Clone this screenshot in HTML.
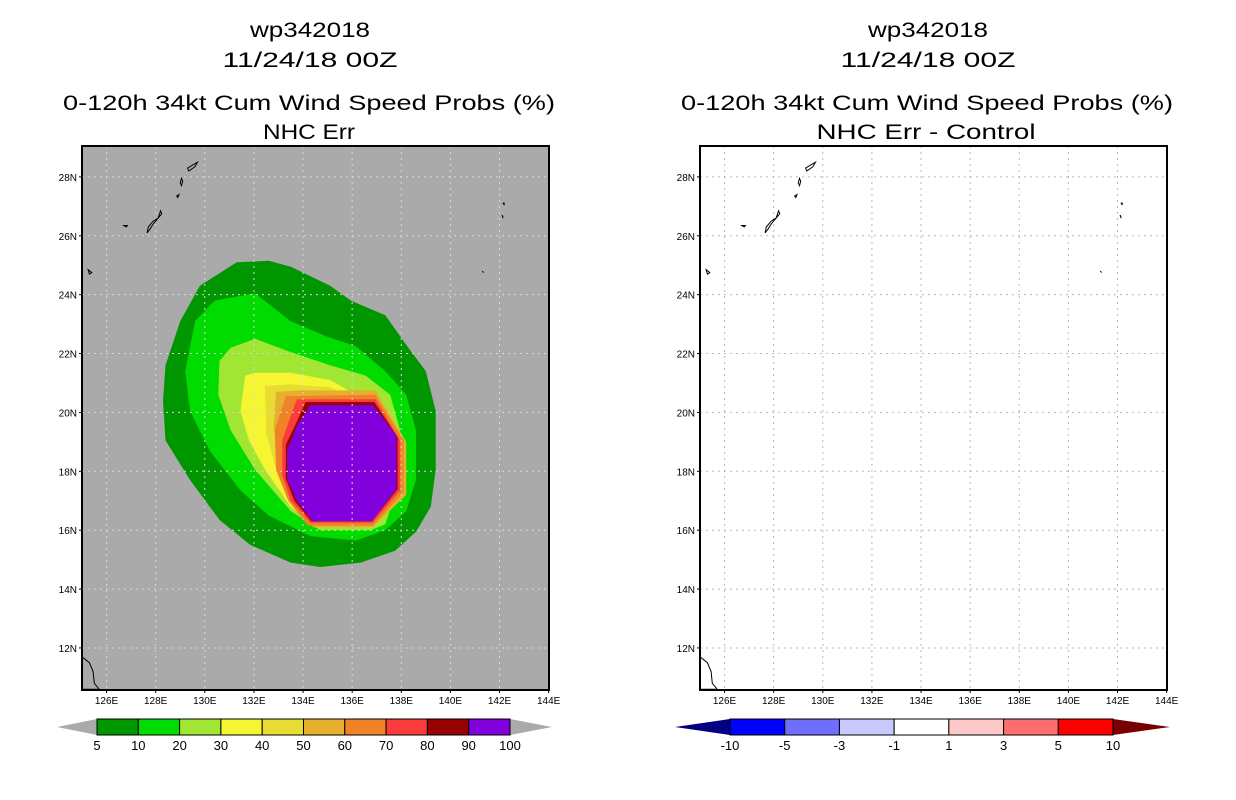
<!DOCTYPE html>
<html><head><meta charset="utf-8">
<style>
body{margin:0;background:#fff;width:1236px;height:800px;overflow:hidden;font-family:"Liberation Sans",sans-serif}
svg{position:absolute;left:0;top:0}
</style></head>
<body>
<svg id="chart" width="1236" height="800" font-family="Liberation Sans, sans-serif">
<g font-size="21" text-anchor="middle" fill="#000" lengthAdjust="spacingAndGlyphs">
<text x="310" y="37" textLength="120" lengthAdjust="spacingAndGlyphs">wp342018</text>
<text x="310" y="67" textLength="175" lengthAdjust="spacingAndGlyphs">11/24/18 00Z</text>
<text x="309" y="110" textLength="492" lengthAdjust="spacingAndGlyphs">0-120h 34kt Cum Wind Speed Probs (%)</text>
<text x="309" y="139" textLength="92" lengthAdjust="spacingAndGlyphs">NHC Err</text>
</g>
<g font-size="21" text-anchor="middle" fill="#000">
<text x="928" y="37" textLength="120" lengthAdjust="spacingAndGlyphs">wp342018</text>
<text x="928" y="67" textLength="175" lengthAdjust="spacingAndGlyphs">11/24/18 00Z</text>
<text x="927" y="110" textLength="492" lengthAdjust="spacingAndGlyphs">0-120h 34kt Cum Wind Speed Probs (%)</text>
<text x="926" y="139" textLength="219" lengthAdjust="spacingAndGlyphs">NHC Err - Control</text>
</g>
<g id="left"></g>
<g id="right"></g>
<g id="cbl"></g>
<g id="cbr"></g>
</svg>
<script>
const lonTicks=[126,128,130,132,134,136,138,140,142,144];
const latTicks=[12,14,16,18,20,22,24,26,28];
const levels=[5,10,20,30,40,50,60,70,80,90,100];
const levelColors=['#009600','#00dc00','#a0e632','#f5f532','#e6dc32','#e6af2d','#f08228','#fa3c3c','#960000','#8200dc'];
// contour polygons [lon,lat]
const c5=[[131.3,25.1],[132.6,25.15],[133.5,24.95],[135.1,24.3],[135.95,23.8],[137.35,23.3],[138.2,22.3],[139.0,21.4],[139.4,20.05],[139.4,18.05],[139.2,16.8],[138.6,15.95],[137.75,15.3],[136.35,14.9],[134.7,14.75],[133.5,14.9],[131.85,15.5],[130.6,16.35],[129.4,17.7],[128.4,19.05],[128.3,20.4],[128.4,21.6],[129.0,23.1],[129.8,24.3]];
const c10=[[130.4,23.8],[132.05,24.05],[133.5,23.1],[134.9,22.6],[136.15,22.25],[137.35,21.4],[138.2,20.6],[138.6,19.4],[138.6,17.7],[138.2,16.65],[137.35,16.0],[136.15,15.65],[134.3,15.8],[132.6,16.5],[131.45,17.35],[130.2,18.7],[129.4,20.05],[129.2,21.4],[129.6,23.1]];
const c20=[[131.05,22.2],[132.05,22.5],[133.5,22.05],[135.1,21.6],[136.55,21.25],[137.55,20.6],[137.95,19.4],[137.95,17.7],[137.35,16.2],[136.75,16.0],[134.7,16.0],[133.5,16.65],[132.05,18.05],[131.05,19.4],[130.55,20.6],[130.6,21.75]];
const c30=[[131.65,21.25],[132.05,21.35],[133.5,21.35],[135.1,21.1],[136.15,20.6],[137.35,19.7],[137.95,19.05],[137.95,17.5],[136.75,16.15],[134.5,16.1],[133.5,16.8],[132.45,18.05],[131.8,19.05],[131.45,20.05]];
const c40=[[132.45,20.9],[133.5,20.95],[135.1,20.85],[136.3,20.4],[137.4,19.6],[138.0,19.0],[138.0,17.45],[136.8,16.1],[134.45,16.1],[133.6,17.0],[132.9,18.1],[132.5,19.3]];
const c50=[[132.9,20.7],[133.9,20.75],[136.95,20.75],[138.2,19.0],[138.2,17.2],[136.85,16.1],[134.4,16.1],[133.7,17.0],[133.1,18.1],[132.8,19.5]];
const c60=[[133.3,20.55],[136.95,20.6],[138.1,19.05],[138.1,17.3],[136.85,16.15],[134.2,16.15],[133.4,17.0],[132.9,18.05],[132.85,19.4]];
const c70=[[133.75,20.45],[136.95,20.45],[137.95,19.05],[137.95,17.35],[136.85,16.25],[134.3,16.25],[133.5,17.0],[133.15,17.85],[133.15,19.05],[133.5,19.9]];
const c80=[[134.1,20.35],[136.9,20.35],[137.85,19.15],[137.85,17.4],[136.8,16.3],[134.35,16.3],[133.65,17.0],[133.3,17.75],[133.3,18.9],[133.7,19.6]];
const c90=[[134.3,20.25],[136.85,20.25],[137.8,19.2],[137.8,17.4],[136.8,16.3],[134.4,16.3],[133.75,17.0],[133.35,17.75],[133.35,18.7],[133.75,19.55]];
const c100=[[134.5,20.1],[136.75,20.1],[137.65,19.1],[137.65,17.55],[136.65,16.45],[134.55,16.45],[133.9,17.05],[133.5,17.7],[133.4,18.55],[133.75,19.4]];
const contours=[c5,c10,c20,c30,c40,c50,c60,c70,c80,c90,c100];
// islands [lon,lat]
const islands=[
[[129.3,28.3],[129.7,28.5],[129.6,28.35],[129.35,28.2]],
[[129.05,27.95],[129.0,27.8],[129.05,27.7],[129.1,27.85]],
[[128.85,27.35],[128.95,27.4],[128.9,27.3]],
[[128.2,26.85],[128.1,26.6],[127.9,26.5],[127.7,26.3],[127.65,26.1],[127.75,26.2],[127.9,26.4],[128.05,26.55],[128.25,26.75]],
[[126.7,26.35],[126.85,26.35],[126.8,26.3]],
[[125.25,24.85],[125.4,24.75],[125.3,24.7]],
[[142.15,27.1],[142.2,27.05],[142.18,27.12]],
[[142.1,26.7],[142.15,26.6],[142.12,26.68]],
[[141.3,24.8],[141.35,24.75]],
[[125.0,11.7],[125.3,11.5],[125.45,11.2],[125.5,10.8],[125.7,10.6],[125.0,10.6]]
];
const cbLeftLabels=['5','10','20','30','40','50','60','70','80','90','100'];
const cbRightLabels=['-10','-5','-3','-1','1','3','5','10'];
const cbRightColors=['#0000ff','#6e6eff','#c8c8ff','#ffffff','#ffc8c8','#ff6e6e','#ff0000'];

const NS='http://www.w3.org/2000/svg';
function mk(p,t,a){const e=document.createElementNS(NS,t);for(const k in a)e.setAttribute(k,a[k]);p.appendChild(e);return e;}
const TOPY=146,BOTY=690;
function xs(x0){return lon=>x0+(lon-125)*24.56;}
function ys(lat){return TOPY+(29.05-lat)*29.44;}
function poly(pts,sx){return pts.map(p=>sx(p[0]).toFixed(1)+','+ys(p[1]).toFixed(1)).join(' ');}

function drawMap(g,x0,bg,filled){
  const sx=xs(x0),x1=x0+467;
  const r=mk(g,'rect',{x:x0,y:TOPY,width:467,height:BOTY-TOPY,fill:bg});
  
  
  if(filled){contours.forEach((c,i)=>{const p=mk(g,'polygon',{points:poly(c,sx),fill:levelColors[Math.min(i,9)]});
    
    });}
  const gc=filled?'#d8d8d8':'#b8b8b8';
  lonTicks.forEach(l=>{if(l<144){const ln=mk(g,'line',{x1:sx(l),x2:sx(l),y1:TOPY,y2:BOTY,stroke:gc,'stroke-dasharray':'2,4','stroke-width':1});
    
    }
    const t=mk(g,'text',{x:sx(l),y:BOTY+14,'font-size':10,'text-anchor':'middle'});t.textContent=l+'E';
    
    
    mk(g,'line',{x1:sx(l),x2:sx(l),y1:BOTY,y2:BOTY+3,stroke:'#000'});});
  latTicks.forEach(l=>{const ln=mk(g,'line',{x1:x0,x2:x1,y1:ys(l),y2:ys(l),stroke:gc,'stroke-dasharray':'2,4'});
    
    
    const t=mk(g,'text',{x:x0-5,y:ys(l)+4,'font-size':10,'text-anchor':'end'});t.textContent=l+'N';
    
    
    mk(g,'line',{x1:x0-3,x2:x0,y1:ys(l),y2:ys(l),stroke:'#000'});});
  islands.forEach(s=>{const p=mk(g,'polygon',{points:poly(s,sx),fill:'none',stroke:'#000','stroke-width':1});
    
    });
  const f=mk(g,'rect',{x:x0,y:TOPY,width:467,height:BOTY-TOPY,fill:'none',stroke:'#000','stroke-width':2});
  
  
}
drawMap(document.getElementById('left'),82,'#aaaaaa',true);
drawMap(document.getElementById('right'),700,'#ffffff',false);

function drawBar(g,xa,xb,xe,xf,colors,labels,lc,rc){
  const y0=719,y1=735,ym=727,n=colors.length,w=(xe-xb)/n;
  let t=mk(g,'polygon',{points:`${xa},${ym} ${xb},${y0} ${xb},${y1}`,fill:lc});
  
  
  t=mk(g,'polygon',{points:`${xf},${ym} ${xe},${y0} ${xe},${y1}`,fill:rc});
  
  
  colors.forEach((c,i)=>{const r=mk(g,'rect',{x:xb+i*w,y:y0,width:w,height:y1-y0,fill:c,stroke:'#000','stroke-width':1});
    
    });
  labels.forEach((l,i)=>{const x=xb+i*w;
    const tx=mk(g,'text',{x:x,y:750,'font-size':13,'text-anchor':'middle'});tx.textContent=l;
    
    });
}
drawBar(document.getElementById('cbl'),57,97,510,552,levelColors,cbLeftLabels,'#aaaaaa','#aaaaaa');
drawBar(document.getElementById('cbr'),675,730,1113,1170,cbRightColors,cbRightLabels,'#000080','#780000');
</script>
</body></html>
